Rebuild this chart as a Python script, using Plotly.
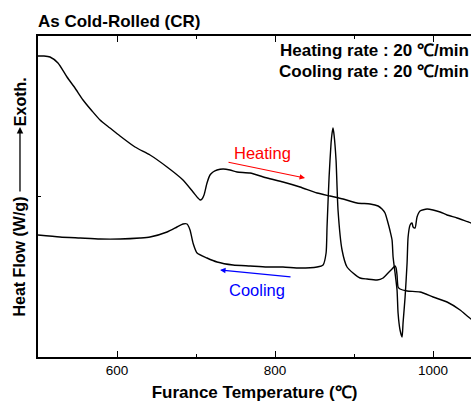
import plotly.graph_objects as go

# Heating curve (furnace temperature in °C, heat flow in arbitrary W/g units)
heat_T = [500.0, 507.6, 515.2, 525.3, 536.7, 546.8, 557.0, 568.4, 578.5, 591.1,
          603.8, 622.8, 641.8, 663.3, 683.5, 696.2, 702.5, 705.1, 707.6, 710.1,
          713.9, 717.7, 721.5, 726.6, 734.2, 743.0, 751.9, 768.4, 789.9, 810.1,
          831.6, 853.2, 869.6, 886.1, 903.8, 920.3, 930.4, 935.4, 939.2, 943.0,
          945.6, 948.1, 949.4, 951.9, 954.4, 955.7, 958.2, 960.8, 962.0, 964.6,
          967.1, 968.4, 970.9, 973.4, 974.7, 977.2, 979.7, 983.5, 992.4, 1000.0,
          1008.9, 1017.7, 1030.4, 1048.1, 1053.2]
heat_HF = [1.405, 1.405, 1.395, 1.335, 1.195, 1.085, 0.965, 0.855, 0.765, 0.685,
           0.605, 0.495, 0.415, 0.295, 0.165, 0.045, -0.015, -0.035, -0.025, 0.015,
           0.135, 0.215, 0.245, 0.265, 0.275, 0.265, 0.245, 0.235, 0.185, 0.145,
           0.095, 0.035, 0.005, -0.025, -0.065, -0.075, -0.095, -0.125, -0.165, -0.265,
           -0.345, -0.435, -0.605, -0.765, -0.935, -1.165, -1.335, -1.405, -1.265, -1.005,
           -0.665, -0.405, -0.285, -0.265, -0.305, -0.315, -0.205, -0.145, -0.125, -0.135,
           -0.155, -0.185, -0.215, -0.265, -0.275]

# Cooling curve (listed from high to low temperature)
cool_T = [1053.2, 1048.1, 1034.2, 1017.7, 1000.0, 983.5, 967.1, 958.2, 955.7, 954.4,
          953.2, 951.9, 948.1, 943.0, 936.7, 929.1, 916.5, 907.6, 898.7, 891.1,
          884.8, 879.7, 877.2, 874.7, 873.4, 872.2, 870.9, 868.4, 865.8, 864.6,
          860.8, 853.2, 831.6, 810.1, 789.9, 768.4, 746.8, 726.6, 713.9, 701.3,
          696.2, 692.4, 688.6, 683.5, 675.9, 663.3, 641.8, 629.1, 603.8, 578.5,
          553.2, 527.8, 500.0]
cool_HF = [-1.235, -1.225, -1.135, -1.055, -1.005, -0.955, -0.945, -0.925, -0.905, -0.785,
           -0.715, -0.695, -0.725, -0.765, -0.815, -0.835, -0.825, -0.815, -0.765, -0.705,
           -0.535, -0.135, 0.365, 0.615, 0.685, 0.635, 0.535, 0.195, -0.305, -0.565,
           -0.685, -0.705, -0.715, -0.705, -0.705, -0.695, -0.685, -0.655, -0.615, -0.565,
           -0.465, -0.335, -0.275, -0.275, -0.305, -0.355, -0.405, -0.415, -0.425, -0.425,
           -0.415, -0.405, -0.385]

x_major = [600, 800, 1000]
x_minor = [700, 900]

FONT = "Liberation Sans, Arial, sans-serif"

fig = go.Figure()
fig.add_trace(go.Scatter(x=heat_T, y=heat_HF, mode="lines",
                         line=dict(color="black", width=1.4, shape="spline", smoothing=0.6),
                         showlegend=False, hoverinfo="skip"))
fig.add_trace(go.Scatter(x=cool_T, y=cool_HF, mode="lines",
                         line=dict(color="black", width=1.4, shape="spline", smoothing=0.6),
                         showlegend=False, hoverinfo="skip"))

fig.update_layout(
    width=471, height=406,
    margin=dict(l=38, r=0, t=36, b=49),
    paper_bgcolor="white", plot_bgcolor="white",
    font=dict(family=FONT, color="black"),
    xaxis=dict(range=[500, 1048], showgrid=False, zeroline=False,
               showline=True, linecolor="black", linewidth=1.5, mirror="ticks",
               ticks="inside", ticklen=6, tickwidth=1.2, tickcolor="black",
               tickvals=x_major, ticktext=[str(v) for v in x_major],
               tickfont=dict(size=13.5, family=FONT),
               minor=dict(tickvals=x_minor, ticks="inside", ticklen=3,
                          tickwidth=1.2, tickcolor="black"),
               title=dict(text="<b>Furance Temperature (℃)</b>",
                          font=dict(size=17, family=FONT), standoff=9)),
    yaxis=dict(range=[-1.605, 1.605], showgrid=False, zeroline=False,
               showline=True, linecolor="black", linewidth=1.5, mirror=False,
               ticks="inside", ticklen=3, tickwidth=1, tickcolor="black",
               tickvals=[0], showticklabels=False),
)

# Title
fig.add_annotation(text="<b>As Cold-Rolled (CR)</b>", xref="paper", yref="paper",
                   x=0, y=1, xanchor="left", yanchor="bottom", yshift=3, xshift=-2,
                   showarrow=False, font=dict(size=17, family=FONT))
# Rate texts
fig.add_annotation(text="<b>Heating rate : 20 ℃/min</b>", xref="paper", yref="paper",
                   x=1, y=0.956, xanchor="right", yanchor="middle", xshift=0,
                   showarrow=False, font=dict(size=17, family=FONT))
fig.add_annotation(text="<b>Cooling rate : 20 ℃/min</b>", xref="paper", yref="paper",
                   x=1, y=0.888, xanchor="right", yanchor="middle", xshift=0,
                   showarrow=False, font=dict(size=17, family=FONT))

# Y-axis label pieces
fig.add_annotation(text="<b>Heat Flow (W/g)</b>", xref="paper", yref="paper",
                   x=-0.0416, y=0.313, xanchor="center", yanchor="middle",
                   textangle=-90, showarrow=False, font=dict(size=16, family=FONT))
fig.add_annotation(text="<b>Exoth.</b>", xref="paper", yref="paper",
                   x=-0.0416, y=0.797, xanchor="center", yanchor="middle",
                   textangle=-90, showarrow=False, font=dict(size=16, family=FONT))
fig.add_annotation(text="", xref="paper", yref="paper",
                   x=-0.0416, y=(357 - 127) / 321, ax=0, ay=66,
                   showarrow=True, arrowhead=2, arrowsize=1, arrowwidth=1.3,
                   arrowcolor="black")

# Heating / Cooling labels with arrows
fig.add_annotation(text="Heating", x=784.2, y=0.435, showarrow=False,
                   font=dict(size=16.5, color="red", family=FONT))
fig.add_annotation(text="", x=838.0, y=0.185, ax=739.2, ay=0.345,
                   axref="x", ayref="y", showarrow=True, arrowhead=2,
                   arrowsize=1, arrowwidth=1.1, arrowcolor="red")
fig.add_annotation(text="Cooling", x=777.2, y=-0.935, showarrow=False,
                   font=dict(size=16.5, color="blue", family=FONT))
fig.add_annotation(text="", x=730.4, y=-0.735, ax=821.5, ay=-0.805,
                   axref="x", ayref="y", showarrow=True, arrowhead=2,
                   arrowsize=1, arrowwidth=1.1, arrowcolor="blue")

fig.write_html("out.html")
